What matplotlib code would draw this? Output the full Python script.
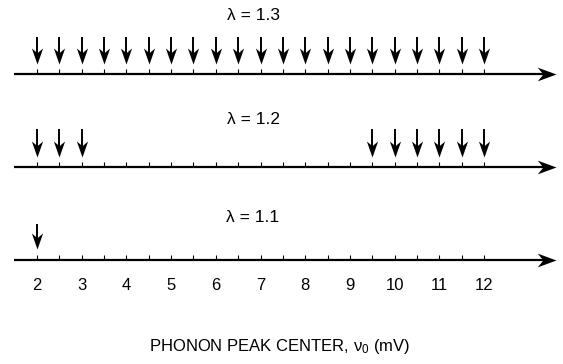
import matplotlib
matplotlib.use("Agg")
from matplotlib import pyplot as plt
from matplotlib.path import Path

# phonon peak centres (mV) marked for each lambda
lambdas = ["1.3", "1.2", "1.1"]
peaks_13 = [2, 2.5, 3, 3.5, 4, 4.5, 5, 5.5, 6, 6.5, 7, 7.5, 8, 8.5, 9, 9.5,
            10, 10.5, 11, 11.5, 12]
peaks_12 = [2, 2.5, 3, 9.5, 10, 10.5, 11, 11.5, 12]
peaks_11 = [2]
minor_ticks = [2, 2.5, 3, 3.5, 4, 4.5, 5, 5.5, 6, 6.5, 7, 7.5, 8, 8.5, 9, 9.5,
               10, 10.5, 11, 11.5, 12]
tick_labels = [2, 3, 4, 5, 6, 7, 8, 9, 10, 11, 12]

plt.rcParams['font.family'] = ['Liberation Sans', 'DejaVu Sans']
plt.rcParams['mathtext.fontset'] = 'custom'
plt.rcParams['mathtext.rm'] = 'Liberation Sans'
plt.rcParams['mathtext.default'] = 'regular'

# stealth arrow heads, tip at the origin
down_head = Path([(0, 0), (-0.42, 1.2), (0, 0.85), (0.42, 1.2), (0, 0)],
                 [Path.MOVETO, Path.LINETO, Path.LINETO, Path.LINETO, Path.CLOSEPOLY])
right_head = Path([(0, 0), (-1.5, 0.55), (-1.05, 0), (-1.5, -0.55), (0, 0)],
                  [Path.MOVETO, Path.LINETO, Path.LINETO, Path.LINETO, Path.CLOSEPOLY])

fig = plt.figure(figsize=(5.63, 3.64), dpi=100)
ax = fig.add_axes([0, 0, 1, 1])
# x in mV, y in pixels from the top
scale = 44.7
ax.set_xlim(2 - 37 / scale, 2 + (563 - 37) / scale)
ax.set_ylim(364, 0)
ax.axis('off')

x_start = 2 - (37 - 14) / scale
x_end = 2 + (556 - 37) / scale

# (axis y, arrow top, arrow tip, label y)
rows = [
    (74, 37, 64, 15),
    (167, 129, 157, 120),
    (260, 224, 249, 217),
]
peak_sets = [peaks_13, peaks_12, peaks_11]

for (yl, ya, yt, ylab), lam, peaks in zip(rows, lambdas, peak_sets):
    ax.plot([x_start, x_end - 10 / scale], [yl, yl], color='black', lw=1.6,
            solid_capstyle='butt')
    ax.plot([x_end], [yl], ls='none', marker=right_head, markersize=27,
            color='black', markeredgewidth=0)
    ax.vlines(minor_ticks, yl - 5, yl, color='black', lw=0.8)
    ax.vlines(peaks, ya, yt - 8, color='black', lw=1.4)
    ax.plot(peaks, [yt] * len(peaks), ls='none', marker=down_head,
            markersize=23, color='black', markeredgewidth=0)
    ax.text(2 + (253 - 37) / scale, ylab, u'λ = ' + lam, ha='center', va='center',
            fontsize=12.5)

for t in tick_labels:
    ax.text(t, 285, str(t), ha='center', va='center', fontsize=12)

ax.text(2 + (280 - 37) / scale, 347, u'PHONON PEAK CENTER, ν$_0$ (mV)',
        ha='center', va='center', fontsize=12)

fig.savefig('out.png', dpi=100)
